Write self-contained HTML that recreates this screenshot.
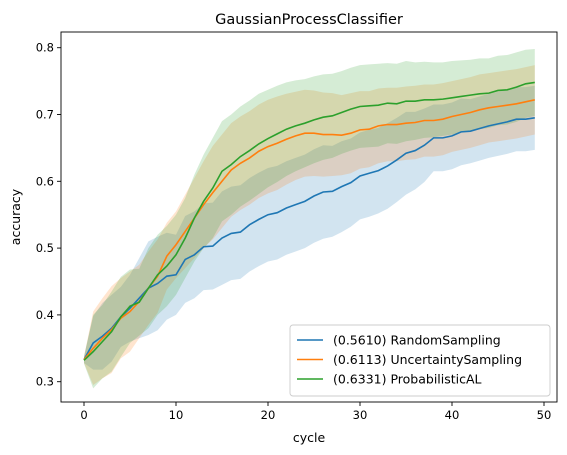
<!DOCTYPE html>
<html><head><meta charset="utf-8"><style>
body{margin:0;background:#fff;}
svg{display:block;font-family:"DejaVu Sans","Liberation Sans",sans-serif;}
</style></head><body>
<svg id="chart" width="567" height="455"></svg>
<script>
const cycles = Array.from({length:50},(_,i)=>i);
const randomMean = [0.333,0.358,0.368,0.38,0.397,0.41,0.425,0.44,0.447,0.458,0.46,0.483,0.49,0.502,0.503,0.515,0.522,0.524,0.535,0.543,0.55,0.553,0.56,0.565,0.57,0.578,0.584,0.585,0.592,0.598,0.608,0.612,0.616,0.623,0.632,0.642,0.646,0.654,0.665,0.665,0.668,0.674,0.675,0.679,0.683,0.686,0.689,0.693,0.693,0.695];
const randomStd = [0.005,0.04,0.05,0.05,0.045,0.05,0.06,0.07,0.07,0.065,0.06,0.065,0.065,0.065,0.065,0.07,0.07,0.07,0.07,0.07,0.07,0.07,0.07,0.07,0.07,0.07,0.07,0.068,0.068,0.066,0.065,0.065,0.064,0.064,0.063,0.062,0.058,0.055,0.05,0.05,0.05,0.05,0.048,0.048,0.048,0.048,0.048,0.048,0.048,0.048];
const uncertMean = [0.333,0.35,0.365,0.378,0.395,0.405,0.42,0.44,0.458,0.488,0.505,0.525,0.545,0.565,0.583,0.6,0.617,0.627,0.635,0.645,0.652,0.657,0.663,0.668,0.672,0.672,0.67,0.67,0.669,0.672,0.677,0.678,0.683,0.685,0.685,0.687,0.688,0.691,0.691,0.693,0.697,0.7,0.703,0.707,0.71,0.712,0.714,0.716,0.719,0.722];
const uncertStd = [0.005,0.055,0.06,0.065,0.06,0.06,0.055,0.055,0.055,0.05,0.05,0.055,0.06,0.065,0.07,0.07,0.07,0.07,0.07,0.07,0.07,0.07,0.068,0.066,0.065,0.064,0.063,0.062,0.06,0.06,0.058,0.057,0.056,0.055,0.055,0.055,0.055,0.054,0.054,0.054,0.053,0.053,0.053,0.053,0.052,0.052,0.052,0.052,0.052,0.052];
const probMean = [0.332,0.345,0.36,0.375,0.397,0.413,0.419,0.44,0.46,0.473,0.49,0.515,0.545,0.57,0.59,0.615,0.625,0.637,0.646,0.656,0.664,0.671,0.678,0.683,0.687,0.692,0.696,0.698,0.703,0.708,0.712,0.713,0.714,0.717,0.716,0.72,0.72,0.722,0.722,0.723,0.725,0.727,0.729,0.731,0.732,0.736,0.737,0.741,0.746,0.748];
const probStd = [0.005,0.055,0.055,0.06,0.06,0.055,0.05,0.06,0.06,0.06,0.06,0.06,0.065,0.07,0.075,0.075,0.075,0.075,0.075,0.075,0.073,0.072,0.07,0.068,0.066,0.065,0.064,0.063,0.062,0.062,0.062,0.062,0.062,0.06,0.06,0.06,0.058,0.057,0.056,0.055,0.055,0.054,0.053,0.053,0.052,0.052,0.052,0.052,0.051,0.05];
const seriesNames = ["(0.5610) RandomSampling","(0.6113) UncertaintySampling","(0.6331) ProbabilisticAL"];
const xTicks = [0,10,20,30,40,50];
const yTicks = [0.3,0.4,0.5,0.6,0.7,0.8];

const NS="http://www.w3.org/2000/svg";
const svg=document.getElementById('chart');
const L=61,R=557,T=32,B=402;
const X=v=>84+(v-0)*(544-84)/50;
const Y=v=>381.7-(v-0.3)*(381.7-47.7)/0.5;
function mk(tag,attrs,parent){const e=document.createElementNS(NS,tag);for(const k in attrs)e.setAttribute(k,attrs[k]);(parent||svg).appendChild(e);return e;}

const series=[
 {mean:randomMean,std:randomStd,color:"#1f77b4",key:"random-sampling"},
 {mean:uncertMean,std:uncertStd,color:"#ff7f0e",key:"uncertainty-sampling"},
 {mean:probMean,std:probStd,color:"#2ca02c",key:"probabilistic-al"}];

series.forEach(s=>{
 const up=cycles.map(i=>X(i)+','+Y(s.mean[i]+s.std[i]));
 const lo=cycles.map(i=>X(i)+','+Y(s.mean[i]-s.std[i])).reverse();
 const p=mk('polygon',{points:up.concat(lo).join(' '),fill:s.color,'fill-opacity':0.2,stroke:'none'});
 
 
});
series.forEach(s=>{
 const l=mk('polyline',{points:cycles.map(i=>X(i)+','+Y(s.mean[i])).join(' '),fill:'none',stroke:s.color,'stroke-width':1.6});
 
 
});
const frame=mk('rect',{x:L,y:T,width:R-L,height:B-T,fill:'none',stroke:'#000','stroke-width':0.9});


xTicks.forEach(t=>{
 mk('line',{x1:X(t),x2:X(t),y1:B,y2:B+4,stroke:'#000','stroke-width':0.9});
 const tx=mk('text',{x:X(t),y:B+17,'text-anchor':'middle','font-size':11.5,fill:'#000'});tx.textContent=t;
 
 
});
yTicks.forEach(t=>{
 mk('line',{x1:L-4,x2:L,y1:Y(t),y2:Y(t),stroke:'#000','stroke-width':0.9});
 const tx=mk('text',{x:L-7,y:Y(t)+4,'text-anchor':'end','font-size':11.5,fill:'#000'});tx.textContent=t.toFixed(1);
 
 
});
const xt=mk('text',{x:(L+R)/2,y:442,'text-anchor':'middle','font-size':12.5});xt.textContent='cycle';


const yt=mk('text',{x:0,y:0,'text-anchor':'middle','font-size':12.5,transform:`translate(20,${(T+B)/2}) rotate(-90)`});yt.textContent='accuracy';


const ti=mk('text',{x:(L+R)/2,y:24,'text-anchor':'middle','font-size':14.5});ti.textContent='GaussianProcessClassifier';



const lg=mk('g',{});


mk('rect',{x:290,y:325,width:260,height:71,rx:3,fill:'#fff','fill-opacity':0.8,stroke:'#ccc','stroke-width':0.9},lg);
series.forEach((s,i)=>{
 const y=340+i*19.5;
 const g=mk('g',{},lg);
 
 
 mk('line',{x1:297,x2:323,y1:y,y2:y,stroke:s.color,'stroke-width':1.6},g);
 const t=mk('text',{x:333,y:y+4.5,'font-size':12.5},g);t.textContent=seriesNames[i];
});
</script>
</body></html>
